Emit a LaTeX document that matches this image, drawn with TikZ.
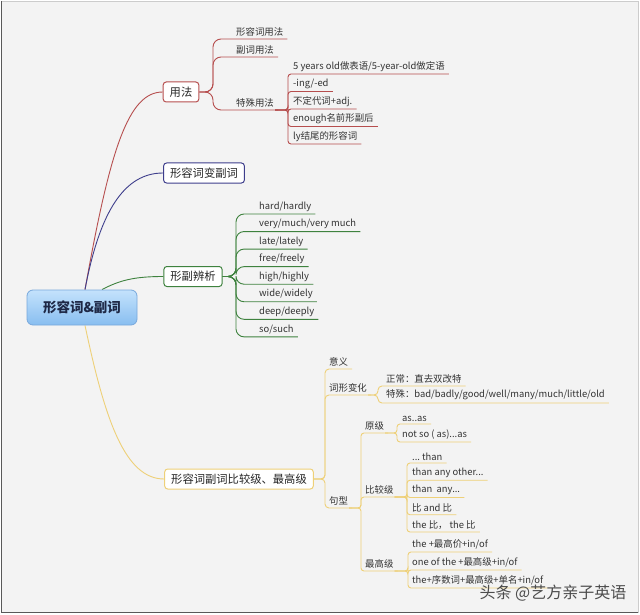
\documentclass[tikz,border=0pt]{standalone}
\usepackage{fontspec}
\newfontfamily\cjk{Noto Sans CJK SC}
\pgfdeclarelayer{bg}\pgfdeclarelayer{lines}
\pgfsetlayers{bg,lines,main}
\newcommand\dts{...}
\definecolor{lred}{RGB}{182,78,78}
\definecolor{lblue}{RGB}{62,62,140}
\definecolor{lgreen}{RGB}{62,130,62}
\definecolor{lyel}{RGB}{238,208,120}
\definecolor{roottop}{RGB}{196,226,252}
\definecolor{rootbot}{RGB}{136,190,240}
\definecolor{rootb}{RGB}{120,168,220}
\definecolor{rootfg}{RGB}{30,40,70}
\definecolor{bgcol}{RGB}{243,243,243}
\begin{document}
\begin{tikzpicture}[x=1pt,y=-1pt,
  topic/.style={draw,fill=white,rounded corners=3pt,line width=1pt,inner xsep=6.5pt,minimum height=20pt,text=black!85,font=\cjk\fontsize{11.3}{13}\selectfont},
  leaf/.style={anchor=south west,inner xsep=1pt,inner ysep=2.5pt,text=black!80,font=\cjk\fontsize{9.4}{11}\selectfont},
  conn/.style={line width=0.9pt,rounded corners=#1}]
\begin{pgfonlayer}{bg}
\fill[white] (0,0) rectangle (640,615);
\fill[bgcol] (1,1) rectangle (638,613);
\draw[gray!40] (1,1) -- (638,1) -- (638,612.5);
\draw[gray!70!black,line width=1pt] (1.5,1) -- (1.5,612.5) -- (638,612.5);
\end{pgfonlayer}
\node[draw=rootb,line width=0.8pt,top color=roottop,bottom color=rootbot,rounded corners=6pt,minimum width=110pt,minimum height=35pt,text=rootfg,font=\cjk\bfseries\fontsize{13.5}{15}\selectfont] (root) at (82,307.5) {形容词\&副词};
\node[topic,draw=lred] (yf) at (181,92) {用法};
\node[topic,draw=lblue] (bf) at (204,173) {形容词变副词};
\node[topic,draw=lgreen] (xf) at (193,276.5) {形副辨析};
\node[topic,draw=lyel] (bj) at (239,479) {形容词副词比较级、最高级};
\begin{pgfonlayer}{lines}
\draw[lred,line width=0.9pt] ([xshift=3pt]root.north) .. controls (110,150) and (128,92) .. (yf.west);
\draw[lblue,line width=0.9pt] ([xshift=3pt]root.north) .. controls (100,210) and (125,173) .. (bf.west);
\draw[lgreen,line width=0.9pt] ([xshift=20pt]root.north) .. controls (120,280) and (135,276.5) .. (xf.west);
\draw[lyel,line width=0.9pt] ([xshift=3pt]root.south) .. controls (105,420) and (125,479) .. (bj.west);
\end{pgfonlayer}
\foreach \t/\y [count=\i] in {形容词用法/39,副词用法/57,特殊用法/110}{
  \node[leaf] (r\i) at (235,\y) {\t};
  \begin{pgfonlayer}{lines}\draw[lred,conn=8pt] (yf.east) -| ([xshift=-22pt]r\i.south west) -- ([xshift=3pt]r\i.south east);\end{pgfonlayer}}
\foreach \t [count=\i] in {5 years old做表语/5-year-old做定语,-ing/-ed,不定代词+adj.,enough名前形副后,ly结尾的形容词}{
  \node[leaf] (s\i) at (292,56.5+17.5*\i) {\t};
  \begin{pgfonlayer}{lines}\draw[lred,conn=3pt] (r3.south east) -| ([xshift=-4pt]s\i.south west) -- ([xshift=3pt]s\i.south east);\end{pgfonlayer}}
\foreach \t [count=\i] in {hard/hardly,very/much/very much,late/lately,free/freely,high/highly,wide/widely,deep/deeply,so/such}{
  \node[leaf] (g\i) at (258,196.45+17.55*\i) {\t};
  \begin{pgfonlayer}{lines}\draw[lgreen,conn=8pt] (xf.east) -| ([xshift=-22pt]g\i.south west) -- ([xshift=3pt]g\i.south east);\end{pgfonlayer}}
\foreach \t/\y [count=\i] in {意义/369,词形变化/395,句型/508}{
  \node[leaf] (y\i) at (328,\y) {\t};
  \begin{pgfonlayer}{lines}\draw[lyel,conn=4pt] (bj.east) -| ([xshift=-3pt]y\i.south west) -- ([xshift=3pt]y\i.south east);\end{pgfonlayer}}
\foreach \t [count=\i] in {正常：直去双改特,特殊：bad/badly/good/well/many/much/little/old}{
  \node[leaf] (w\i) at (385,369+17*\i) {\t};
  \begin{pgfonlayer}{lines}\draw[lyel,conn=4pt] (y2.south east) -| ([xshift=-7pt]w\i.south west) -- ([xshift=3pt]w\i.south east);\end{pgfonlayer}}
\foreach \t/\y [count=\i] in {原级/433,比较级/497,最高级/571}{
  \node[leaf] (j\i) at (364,\y) {\t};
  \begin{pgfonlayer}{lines}\draw[lyel,conn=3pt] (y3.south east) -| ([xshift=-3pt]j\i.south west) -- ([xshift=3pt]j\i.south east);\end{pgfonlayer}}
\foreach \t [count=\i] in {as..as,not so ( as)\dts as}{
  \node[leaf] (o\i) at (401,406+18*\i) {\t};
  \begin{pgfonlayer}{lines}\draw[lyel,conn=3pt] (j1.south east) -| ([xshift=-4pt]o\i.south west) -- ([xshift=3pt]o\i.south east);\end{pgfonlayer}}
\foreach \t [count=\i] in {\dts\ than,than any other\dts,than\ \ any\dts,比 and 比,the 比， the 比}{
  \node[leaf] (b\i) at (411,445.75+17.25*\i) {\t};
  \begin{pgfonlayer}{lines}\draw[lyel,conn=3pt] (j2.south east) -| ([xshift=-4pt]b\i.south west) -- ([xshift=3pt]b\i.south east);\end{pgfonlayer}}
\foreach \t [count=\i] in {the +最高价+in/of,one of the +最高级+in/of,the+序数词+最高级+单名+in/of}{
  \node[leaf] (z\i) at (411,534+18*\i) {\t};
  \begin{pgfonlayer}{lines}\draw[lyel,conn=3pt] (j3.south east) -| ([xshift=-3pt]z\i.south west) -- ([xshift=3pt]z\i.south east);\end{pgfonlayer}}
\node[anchor=west,text=black!70,font=\cjk\fontsize{16}{18}\selectfont] (wm) at (476,593) {头条 @艺方亲子英语};
\end{tikzpicture}
\end{document}
